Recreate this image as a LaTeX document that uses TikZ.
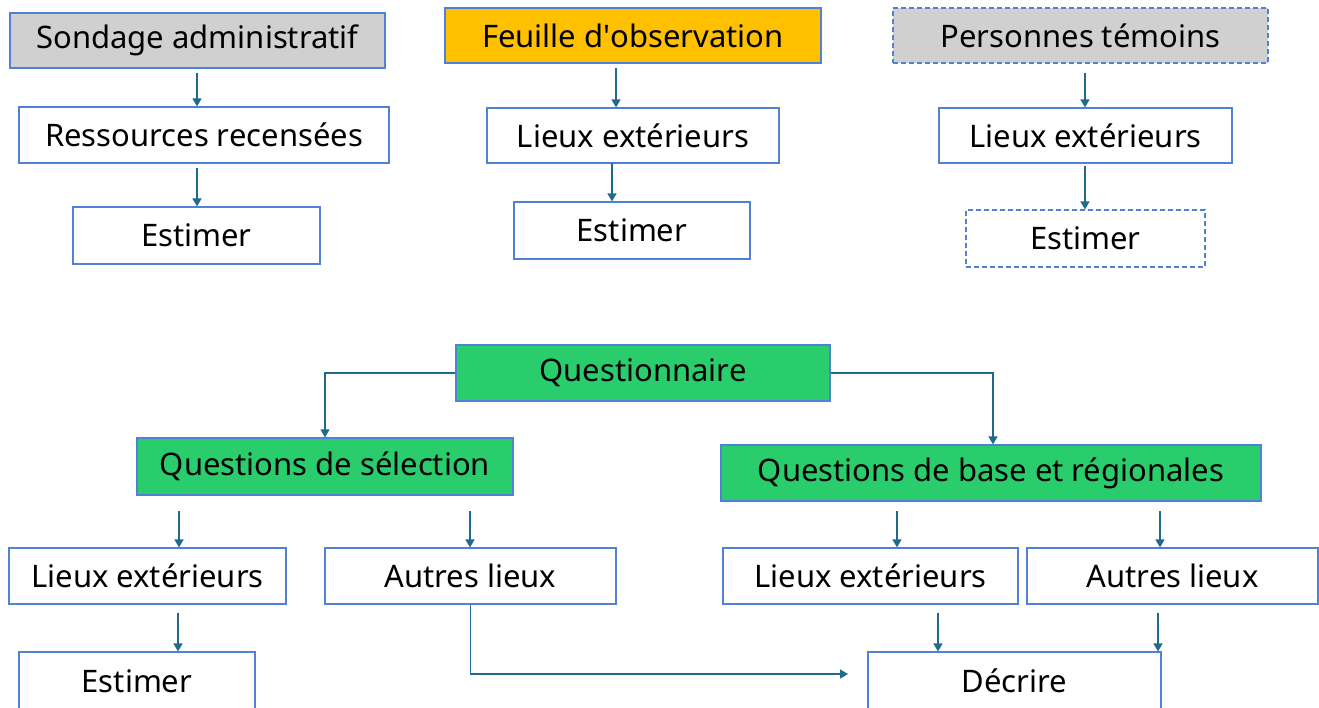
\documentclass[tikz,border=0pt]{standalone}
\usepackage{fontspec}
\setmainfont{Noto Sans}
\usetikzlibrary{arrows.meta}
\definecolor{bord}{HTML}{4F81D6}
\definecolor{grayf}{HTML}{D0D0D0}
\definecolor{orangef}{HTML}{FFC000}
\definecolor{greenf}{HTML}{2ACD6B}
\definecolor{arrc}{HTML}{1F6B8C}
\tikzset{
  box/.style={draw=bord, line width=1.2pt, fill=white, inner sep=0pt,
    font=\fontsize{31}{36}\selectfont, text=black},
  dashbox/.style={box, dash pattern=on 5pt off 3pt},
  arr/.style={draw=arrc, line width=1.6pt, -{Triangle[width=9pt,length=8pt]}},
}
\begin{document}
\begin{tikzpicture}[x=1pt,y=-1pt]
\useasboundingbox (0,0) rectangle (1319,707);
\clip (0,0) rectangle (1319,707);
% top row
\node[box, fill=grayf, minimum width=375pt, minimum height=55pt] (sond) at (197.5,40.5) {Sondage administratif};
\node[box, minimum width=370pt, minimum height=56pt] (res) at (204,135) {Ressources recensées};
\node[box, minimum width=247pt, minimum height=57pt] (est1) at (196.5,235.5) {Estimer};
\node[box, fill=orangef, minimum width=376pt, minimum height=55pt] (feu) at (633,35.5) {Feuille d\textquotesingle observation};
\node[box, minimum width=292pt, minimum height=55pt] (lx2) at (633,135.5) {Lieux extérieurs};
\node[box, minimum width=236pt, minimum height=57pt] (est2) at (632,230.5) {Estimer};
\node[dashbox, fill=grayf, minimum width=375pt, minimum height=55pt] (pers) at (1080.5,35.5) {Personnes témoins};
\node[box, minimum width=293pt, minimum height=55pt] (lx3) at (1085.5,135.5) {Lieux extérieurs};
\node[dashbox, minimum width=239pt, minimum height=57pt] (est3) at (1085.5,238.5) {Estimer};
% bottom
\node[box, fill=greenf, minimum width=374pt, minimum height=56pt] (quest) at (643,373) {Questionnaire};
\node[box, fill=greenf, minimum width=376pt, minimum height=57pt] (qsel) at (325,466.5) {Questions de sélection};
\node[box, fill=greenf, minimum width=540pt, minimum height=56pt] (qbase) at (991,473) {Questions de base et régionales};
\node[box, minimum width=277pt, minimum height=56pt] (lx4) at (147.5,576) {Lieux extérieurs};
\node[box, minimum width=291pt, minimum height=56pt] (aut1) at (470.5,576) {Autres lieux};
\node[box, minimum width=295pt, minimum height=56pt] (lx5) at (870.5,576) {Lieux extérieurs};
\node[box, minimum width=291pt, minimum height=56pt] (aut2) at (1172.5,576) {Autres lieux};
\node[box, minimum width=236pt, minimum height=58pt] (est4) at (137,681) {Estimer};
\node[box, minimum width=293pt, minimum height=58pt] (dec) at (1014.5,681) {Décrire};
\coordinate (decin) at (848,674);
% arrows top
\draw[arr] (197,73) -- (197,0 |- res.north);
\draw[arr] (197,168) -- (197,0 |- est1.north);
\draw[arr] (616,68) -- (616,0 |- lx2.north);
\draw[arr] (612,163) -- (612,0 |- est2.north);
\draw[arr] (1085,73) -- (1085,0 |- lx3.north);
\draw[arr] (1085,166) -- (1085,0 |- est3.north);
% arrows bottom
\draw[arr, line width=1.3pt] (quest.west) -| (qsel.north);
\draw[arr, line width=1.3pt] (quest.east) -| (993,0 |- qbase.north);
\draw[arr] (179,511) -- (179,0 |- lx4.north);
\draw[arr] (470,511) -- (470,0 |- aut1.north);
\draw[arr] (897,511) -- (897,0 |- lx5.north);
\draw[arr] (1160,511) -- (1160,0 |- aut2.north);
\draw[arr] (178,613) -- (178,0 |- est4.north);
\draw[arr] (938,613) -- (938,0 |- dec.north);
\draw[arr] (1158,613) -- (1158,0 |- dec.north);
\draw[arr] (aut1.south) |- (decin);
\end{tikzpicture}
\end{document}
